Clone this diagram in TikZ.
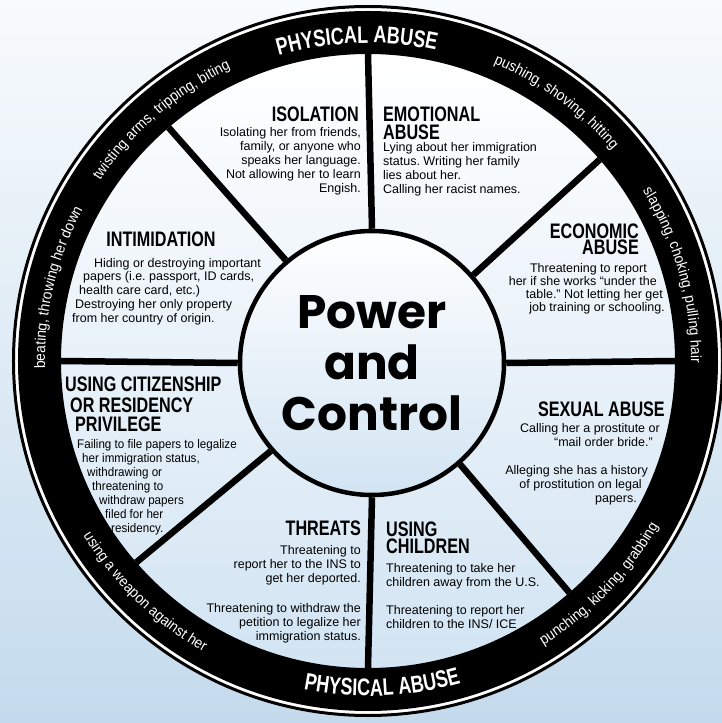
\documentclass[tikz,border=0pt]{standalone}
\usepackage{fontspec}
\setmainfont{Liberation Sans}
\newfontfamily\headfont{Liberation Sans}[FakeStretch=0.77]
\newfontfamily\ringfont{Liberation Sans}[FakeStretch=0.92]
\newfontfamily\capsfont{Liberation Sans}[FakeStretch=0.75]
\newfontfamily\narrowfont{Liberation Sans}[FakeStretch=0.93]
\newfontfamily\hubfont{Poppins}
\usetikzlibrary{decorations.text}
\definecolor{skytop}{RGB}{248,251,253}
\definecolor{skybot}{RGB}{196,219,237}
\definecolor{diskbot}{RGB}{210,228,243}
\newcommand{\rgap}[1]{\hspace*{#1}\mbox{}}
\frenchspacing

\begin{document}
\begin{tikzpicture}[x=1pt, y=1pt]
    \tikzstyle{head}=[inner sep=0, font=\headfont\bfseries\fontsize{21}{18}\selectfont]
    \tikzstyle{body}=[inner sep=0, font=\fontsize{12.5}{14}\selectfont]
    \tikzstyle{spoke}=[line width=6.5pt]
    \tikzstyle{hub}=[
        circle,
        draw = black,
        line width = 4.5pt,
        minimum size = 264pt,
        inner sep = 0,
        top color = white,
        bottom color = diskbot,
        align = center,
        font = \hubfont\bfseries\fontsize{47}{51}\selectfont
    ]
    \tikzstyle{ring}=[decorate, decoration={text along path, text align=center}]

    % sky and wheel
    \useasboundingbox (-368,-362) rectangle (354,361);
    \shade[top color=skytop, bottom color=skybot] (-368,-362) rectangle (354,361);
    \shade[top color=white, bottom color=diskbot] (0,0) circle (307);
    \draw[white, line width=8pt] (0,0) circle (352);
    \draw[line width=43pt] (0,0) circle (328.5);
    \draw[line width=3pt] (0,0) circle (354.5);

    \node[hub] (hub) at (4,-2) {Power\\and\\Control};

    \foreach \a/\n in {90/a, 41/b, 0/c, -49/d, -90/e, 221/f, 180/g, 130.5/h} {
        \coordinate (rim\n) at (\a:307);
        \draw[spoke] (hub.\a) -- (rim\n);
    }

    % texts in the ring
    \path[ring, decoration={text={|\capsfont\bfseries\fontsize{24}{24}\selectfont\color{white}|PHYSICAL ABUSE}}]
        (132:318) arc[start angle=132, end angle=52, radius=318];
    \path[ring, decoration={text={|\capsfont\bfseries\fontsize{24}{24}\selectfont\color{white}|PHYSICAL ABUSE}}]
        (232.5:335) arc[start angle=232.5, end angle=312.5, radius=335];
    \path[ring, decoration={text={|\ringfont\fontsize{15}{15}\selectfont\color{white}|pushing, shoving, hitting}}]
        (94:323) arc[start angle=94, end angle=14, radius=323];
    \path[ring, decoration={text={|\ringfont\fontsize{15}{15}\selectfont\color{white}|slapping, choking, pulling hair}}]
        (55.7:323) arc[start angle=55.7, end angle=-24.3, radius=323];
    \path[ring, decoration={text={|\ringfont\fontsize{15}{15}\selectfont\color{white}|punching, kicking, grabbing}}]
        (-84:334) arc[start angle=-84, end angle=-4, radius=334];
    \path[ring, decoration={text={|\ringfont\fontsize{15}{15}\selectfont\color{white}|using a weapon against her}}]
        (186:334) arc[start angle=186, end angle=266, radius=334];
    \path[ring, decoration={text={|\ringfont\fontsize{15}{15}\selectfont\color{white}|beating, throwing her down}}]
        (206.7:323) arc[start angle=206.7, end angle=126.7, radius=323];
    \path[ring, decoration={text={|\ringfont\fontsize{15}{15}\selectfont\color{white}|twisting arms, tripping, biting}}]
        (170.6:323) arc[start angle=170.6, end angle=90.6, radius=323];

    % the eight parts (base = last line)
    \node[head, anchor=base east] (isoT) at (-9,239) {ISOLATION};
    \node[body, anchor=base east, align=right] (iso) at (-7,168)
        {Isolating her from friends,\\family, or anyone who\\speaks her language.\\Not allowing her to learn\\Engish.};

    \node[head, anchor=base west, align=left] (emoT) at (15,221) {EMOTIONAL\\ABUSE};
    \node[body, anchor=base west, align=left] (emo) at (15,167)
        {Lying about her immigration\\status. Writing her family\\lies about her.\\Calling her racist names.};

    \node[head, anchor=base east, align=right] (ecoT) at (271,106) {ECONOMIC\\[-2pt]ABUSE};
    \node[body, anchor=base east, align=right, font=\fontsize{12.5}{13}\selectfont] (eco) at (297,49)
        {Threatening to report\rgap{18pt}\\her if she works “under the\rgap{8pt}\\table.” Not letting her get\rgap{2pt}\\job training or schooling.};

    \node[head, anchor=base east] (sexT) at (297,-55) {SEXUAL ABUSE};
    \node[body, anchor=base east, align=right] (sex) at (292,-141)
        {Calling her a prostitute or\\“mail order bride.”\rgap{7pt}\\[14pt]Alleging she has a history\rgap{12pt}\\of prostitution on legal\rgap{18pt}\\papers.\rgap{23pt}};

    \node[head, anchor=base west, align=left] (chiT) at (18,-192) {USING\\[-1pt]CHILDREN};
    \node[body, anchor=base west, align=left] (chi) at (18,-267)
        {Threatening to take her\\children away from the U.S.\\[14pt]Threatening to report her\\children to the INS/ ICE};

    \node[head, anchor=base east] (thrT) at (-7,-174) {THREATS};
    \node[body, anchor=base east, align=right] (thr) at (-7,-279)
        {Threatening to\\report her to the INS to\\get her deported.\\[16pt]Threatening to withdraw the\\petition to legalize her\\immigration status.};

    \node[head, anchor=base west, align=left] (citT) at (-303,-70)
        {USING CITIZENSHIP\\[3pt]\hspace*{5pt}OR RESIDENCY\\[1pt]\hspace*{10pt}PRIVILEGE};
    \node[body, anchor=base west, align=left, font=\narrowfont\fontsize{12.5}{14}\selectfont] (cit) at (-291,-171)
        {Failing to file papers to legalize\\\hspace*{5pt}her immigration status,\\\hspace*{10pt}withdrawing or\\\hspace*{15pt}threatening to\\\hspace*{22pt}withdraw papers\\\hspace*{28pt}filed for her\\\hspace*{34pt}residency.};

    \node[head, anchor=base] (intT) at (-207,114) {INTIMIDATION};
    \node[body, anchor=base west, align=left] (int) at (-296,38)
        {\hspace*{22pt}Hiding or destroying important\\\hspace*{11pt}papers (i.e. passport, ID cards,\\\hspace*{7pt}health care card, etc.)\\\hspace*{3pt}Destroying her only property\\from her country of origin.};
\end{tikzpicture}
\end{document}
